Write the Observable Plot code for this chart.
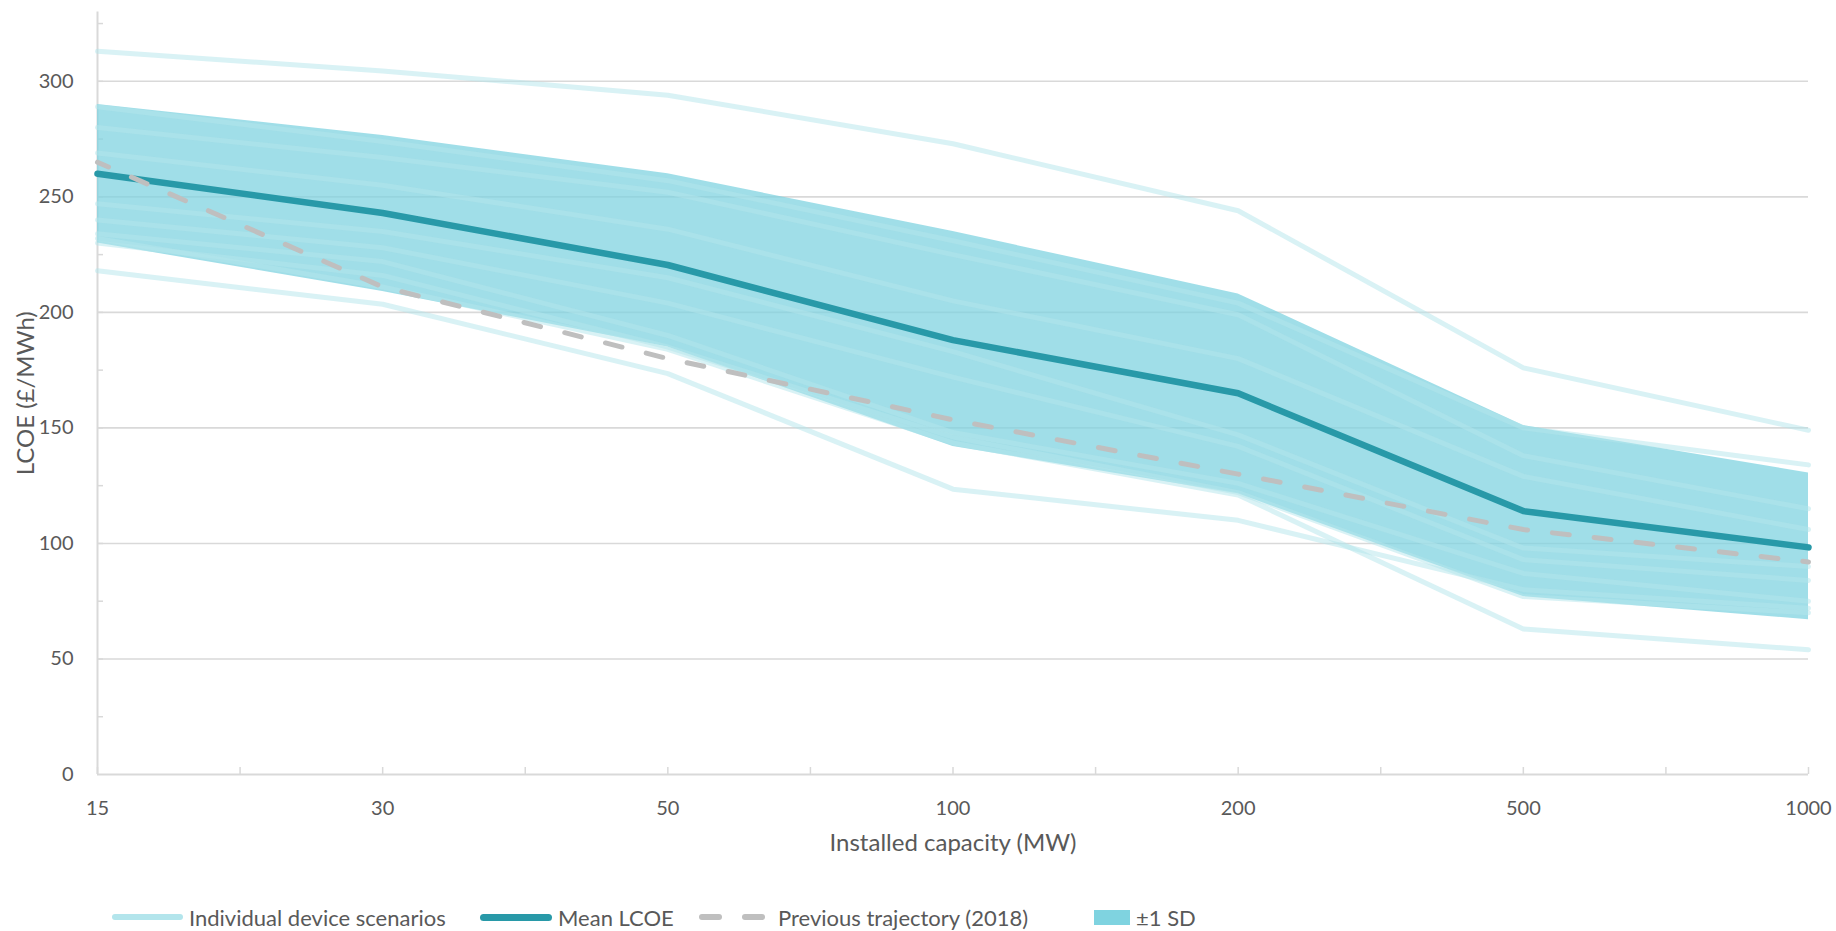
<!DOCTYPE html>
<html>
<head>
<meta charset="utf-8">
<script src="https://cdn.jsdelivr.net/npm/d3@7"></script>
<script src="https://cdn.jsdelivr.net/npm/@observablehq/plot@0.6"></script>
<style>
  html, body { margin: 0; padding: 0; background: #ffffff; }
  body { width: 1836px; height: 931px; position: relative; overflow: hidden; font-family: Lato, "Open Sans", sans-serif; }
  #chart { position: absolute; left: 0; top: 0; }
  #legend { position: absolute; left: 0; top: 903px; width: 1836px; height: 28px; color: #595959; font-size: 22px; }
  .lg { position: absolute; top: 0; height: 28px; display: flex; align-items: center; white-space: nowrap; }
  .sw { display: inline-block; }
</style>
</head>
<body>
<div id="chart"></div>
<div id="legend"></div>
<script>
// ---- data ----
const capacities = ["15", "30", "50", "100", "200", "500", "1000"];
const meanLCOE = [260, 243, 220.5, 188, 165, 114, 98.3];
const previous2018 = [265, 211, 180, 153.5, 130, 106, 92];
const sdUpper = [290, 276.5, 260, 235, 208, 151, 130.5];
const sdLower = [230, 209, 185, 142, 121.5, 77, 67];
const scenario1 = [313, 304.5, 294, 273, 244, 176, 149];
const scenario2 = [289, 274, 257, 231, 204, 150, 134];
const scenario3 = [280, 267, 252, 225, 199, 138, 115];
const scenario4 = [269, 255, 236, 205, 180, 129, 106];
const scenario5 = [247, 235, 215, 183, 147, 98, 90];
const scenario6 = [240, 228, 204, 172, 142, 93, 84];
const scenario7 = [234, 222, 190, 148, 126, 87, 75];
const scenario8 = [230, 216, 185, 146, 122, 77, 70];
const scenario9 = [218, 203.5, 173.5, 123.5, 110, 80, 72];
const scenario10 = [232, 211, 184, 143.5, 121, 63, 54];
const yTickValues = [0, 50, 100, 150, 200, 250, 300];
const xTitle = "Installed capacity (MW)";
const yTitle = "LCOE (£/MWh)";
const legendLabels = ["Individual device scenarios", "Mean LCOE", "Previous trajectory (2018)", "±1 SD"];

// ---- tables built from the arrays ----
const scenarios = [scenario1, scenario2, scenario3, scenario4, scenario5, scenario6, scenario7, scenario8, scenario9, scenario10];
const scenarioRows = scenarios.flatMap((vals, s) => vals.map((v, i) => ({s, i, v})));
const meanRows = meanLCOE.map((v, i) => ({i, v}));
const prevRows = previous2018.map((v, i) => ({i, v}));
const bandRows = capacities.map((c, i) => ({i, lo: sdLower[i], hi: sdUpper[i]}));
const catIndex = capacities.map((c, i) => i);
const halfSteps = d3.range(0, capacities.length - 0.99, 0.5);
const minorY = d3.range(25, 330, 25);

const C = {
  grid: "#d9d9d9",
  text: "#595959",
  band: "#7fd3e0",
  scen: "#b3e5ec",
  mean: "#2899a8",
  prev: "#bfbfbf"
};
const FONT = "Lato, 'Open Sans', sans-serif";

const H = 872;
const chart = Plot.plot({
  width: 1836,
  height: H,
  marginLeft: 97,
  marginRight: 28,
  marginTop: 11.5,
  marginBottom: H - 774,
  x: {type: "linear", domain: [0, capacities.length - 1]},
  y: {type: "linear", domain: [0, 330]},
  style: {fontFamily: FONT, color: C.text, background: "#ffffff", overflow: "visible"},
  marks: [
    Plot.gridY(yTickValues.filter(d => d > 0), {stroke: C.grid, strokeOpacity: 1, strokeWidth: 1.6}),
    Plot.ruleX([0], {stroke: C.grid, strokeWidth: 2}),
    Plot.ruleY([0], {stroke: C.grid, strokeWidth: 2}),
    // minor ticks on y axis pointing inward
    Plot.axisY({ticks: minorY, tickSize: 6, dx: 6, tickFormat: () => "", stroke: C.grid, strokeWidth: 1.5, label: null}),
    // y tick labels
    Plot.axisY({ticks: yTickValues, tickSize: 0, tickPadding: 24, tickFormat: d => String(d), fontSize: 20, label: null}),
    // x tick marks (categories and midpoints), pointing upward
    Plot.axisX({ticks: halfSteps, tickSize: 7, dy: -7, tickFormat: () => "", stroke: C.grid, strokeWidth: 1.5, label: null}),
    // x tick labels
    Plot.axisX({ticks: catIndex, tickSize: 0, tickPadding: 26, tickFormat: i => capacities[i], fontSize: 20, label: null}),
    // ±1 SD band
    Plot.areaY(bandRows, {x: "i", y1: "lo", y2: "hi", fill: C.band, fillOpacity: 0.74}),
    // individual scenarios
    Plot.line(scenarioRows, {x: "i", y: "v", z: "s", stroke: C.scen, strokeOpacity: 0.5, strokeWidth: 5}),
    // mean
    Plot.line(meanRows, {x: "i", y: "v", stroke: C.mean, strokeWidth: 6.5}),
    // previous trajectory
    Plot.line(prevRows, {x: "i", y: "v", stroke: C.prev, strokeWidth: 5, strokeDasharray: "17,25", strokeDashoffset: 5, strokeLinecap: "round"}),
    // axis titles
    Plot.text([xTitle], {frameAnchor: "bottom", dy: 76, fontSize: 24, fill: C.text, textAnchor: "middle"}),
    Plot.text([yTitle], {frameAnchor: "left", dx: -71, rotate: -90, fontSize: 24, fill: C.text, textAnchor: "middle"})
  ]
});
document.getElementById("chart").appendChild(chart);

// ---- legend (HTML, below the SVG) ----
const legend = document.getElementById("legend");
function item(left, swatchHTML, label) {
  const d = document.createElement("div");
  d.className = "lg";
  d.style.left = left + "px";
  d.innerHTML = swatchHTML + `<span style="margin-left:6px">${label}</span>`;
  legend.appendChild(d);
}
item(112, `<span class="sw" style="width:71px;height:6px;border-radius:3px;background:${C.scen}"></span>`, legendLabels[0]);
item(480, `<span class="sw" style="width:72px;height:7px;border-radius:3.5px;background:${C.mean}"></span>`, legendLabels[1]);
item(699, `<span class="sw" style="width:23px;height:6px;border-radius:3px;background:${C.prev}"></span><span class="sw" style="width:23px;height:6px;border-radius:3px;background:${C.prev};margin-left:20px"></span><span style="width:7px;display:inline-block"></span>`, legendLabels[2]);
item(1094, `<span class="sw" style="width:36px;height:15px;background:${C.band}"></span>`, legendLabels[3]);
</script>
</body>
</html>
